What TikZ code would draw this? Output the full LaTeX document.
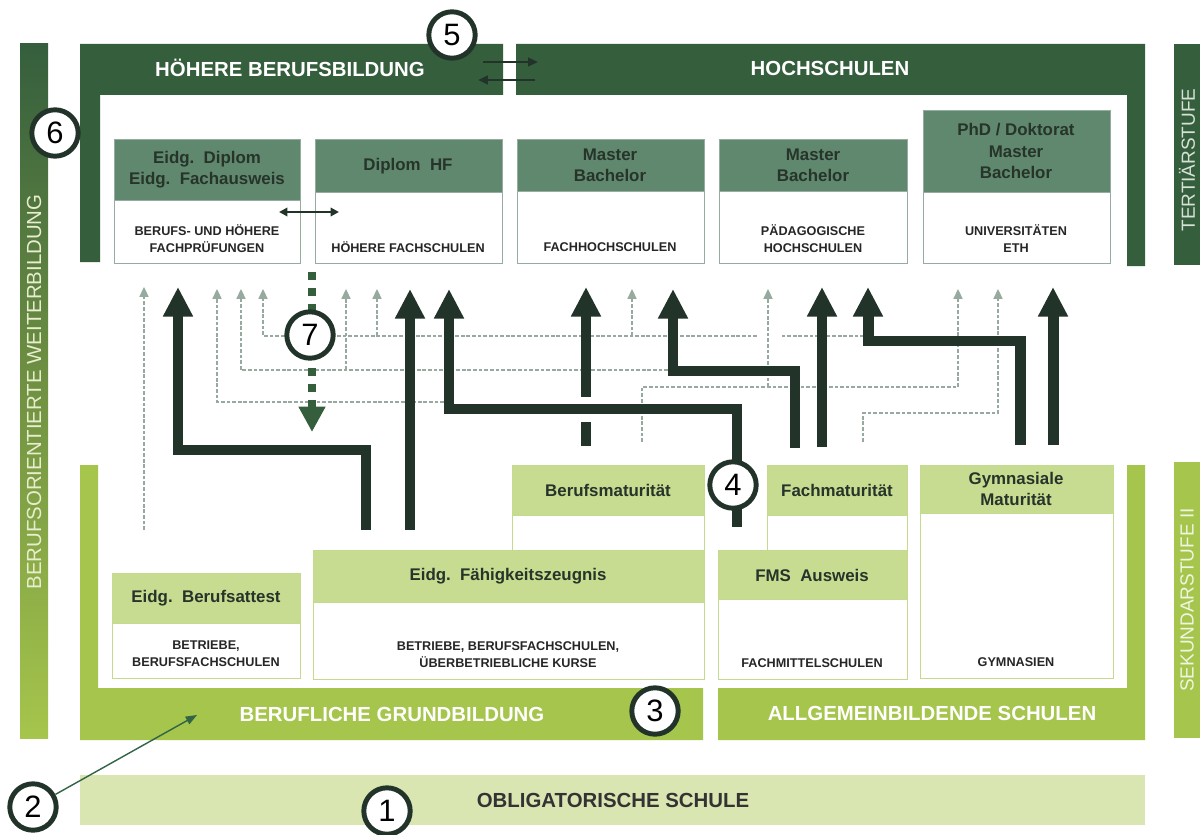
\documentclass[tikz,border=0pt]{standalone}
\usepackage{fontspec}
\setmainfont{Liberation Sans}
\usetikzlibrary{arrows.meta}

\definecolor{tertgreen}{RGB}{53,94,61}
\definecolor{olivemid}{RGB}{112,146,66}
\definecolor{headgreen}{RGB}{96,136,111}
\definecolor{headtext}{RGB}{38,52,42}
\definecolor{sekgreen}{RGB}{166,197,76}
\definecolor{lighthead}{RGB}{200,220,145}
\definecolor{oblgreen}{RGB}{217,230,178}
\definecolor{arrowdark}{RGB}{34,51,42}
\definecolor{dashgray}{RGB}{150,170,160}
\definecolor{boxline}{RGB}{150,172,158}
\definecolor{lightline}{RGB}{196,218,140}

\tikzstyle{hdr}=[fill=headgreen, draw=boxline, line width=0.7pt]
\tikzstyle{bodybox}=[fill=white, draw=boxline, line width=0.7pt]
\tikzstyle{lhdr}=[fill=lighthead, draw=lightline, line width=0.7pt]
\tikzstyle{lbody}=[fill=white, draw=lightline, line width=0.7pt]
\tikzstyle{htxt}=[font=\bfseries\fontsize{12}{15}\selectfont, text=headtext, align=center, inner sep=0pt]
\tikzstyle{btxt}=[font=\bfseries\fontsize{9}{12}\selectfont, text=black!85, align=center, inner sep=0pt]
\tikzstyle{bigtxt}=[font=\bfseries\fontsize{14.5}{16}\selectfont, text=white, inner sep=0pt]
\tikzstyle{sidetxt}=[font=\fontsize{13.5}{15}\selectfont, rotate=90, inner sep=0pt]
\tikzstyle{num}=[circle, draw=arrowdark, line width=3.5pt, fill=white, minimum size=33pt, inner sep=0pt, font=\fontsize{22}{22}\selectfont]
\tikzstyle{bigarrow}=[draw=arrowdark, line width=7.8pt, -{Triangle[length=21pt,width=20pt]}]
\tikzstyle{dline}=[draw=dashgray, line width=0.8pt, dash pattern=on 2.6pt off 1.4pt, -{Triangle[length=7pt,width=6.5pt]}]
\tikzstyle{greendash}=[draw=tertgreen, line width=5.7pt, dash pattern=on 5.7pt off 5.7pt, -{Triangle[length=18pt,width=18pt]}]
\tikzstyle{xarrow}=[draw=arrowdark, line width=1.6pt, -{Triangle[length=7pt,width=6pt]}]

\begin{document}
\begin{tikzpicture}[x=0.025cm,y=-0.025cm]
        \useasboundingbox (0,0) rectangle (1200,834);
        \fill[white] (0,0) rectangle (1200,834);
        %
        % side bars
        \shade[top color=tertgreen, bottom color=sekgreen, middle color=olivemid] (20,44) rectangle (48,738);
        \fill[tertgreen] (1174,44) rectangle (1200,265);
        \fill[sekgreen] (1174,462) rectangle (1200,738);
        \draw (34,392) node[sidetxt, font=\fontsize{14.5}{15}\selectfont, text={rgb,255:red,232;green,237;blue,205}](bow){BERUFSORIENTIERTE WEITERBILDUNG};
        \draw (1187,160) node[sidetxt, text={rgb,255:red,215;green,226;blue,215}](tert){TERTIÄRSTUFE};
        \draw (1187,600) node[sidetxt, text={rgb,255:red,240;green,245;blue,225}](sek){SEKUNDARSTUFE II};
        %
        % frames
        \fill[tertgreen] (80,44) -- (503,44) -- (503,95) -- (100,95) -- (100,262) -- (80,262) -- cycle;
        \fill[tertgreen] (516,44) -- (1145,44) -- (1145,266) -- (1127,266) -- (1127,95) -- (516,95) -- cycle;
        \fill[sekgreen] (80,465) -- (98,465) -- (98,688) -- (703,688) -- (703,740) -- (80,740) -- cycle;
        \fill[sekgreen] (718,688) -- (1127,688) -- (1127,465) -- (1145,465) -- (1145,740) -- (718,740) -- cycle;
        \fill[oblgreen] (80,775) rectangle (1145,825);
        \draw (290,68) node[bigtxt](hbb){HÖHERE BERUFSBILDUNG};
        \draw (830,68) node[bigtxt](hs){HOCHSCHULEN};
        \draw (392,714) node[bigtxt](bgb){BERUFLICHE GRUNDBILDUNG};
        \draw (932,713) node[bigtxt](abs){ALLGEMEINBILDENDE SCHULEN};
        \draw (613,800) node[bigtxt, text=black!80](obl){OBLIGATORISCHE SCHULE};
        %
        % tertiary boxes
        \draw[hdr] (114,139) rectangle (300,200);
        \draw[bodybox] (114,200) rectangle (300,263);
        \draw[hdr] (315,139) rectangle (502,192);
        \draw[bodybox] (315,192) rectangle (502,263);
        \draw[hdr] (517,139) rectangle (704,191);
        \draw[bodybox] (517,191) rectangle (704,263);
        \draw[hdr] (719,139) rectangle (907,191);
        \draw[bodybox] (719,191) rectangle (907,263);
        \draw[hdr] (923,110) rectangle (1110,192);
        \draw[bodybox] (923,192) rectangle (1110,263);
        \draw (207,170) node[htxt](dipl){Eidg.\ \ Diplom\\Eidg.\ \ Fachausweis};
        \draw (408,166) node[htxt](dhf){Diplom\ \ HF};
        \draw (610,165) node[htxt](mfh){Master\\Bachelor};
        \draw (813,165) node[htxt](mph){Master\\Bachelor};
        \draw (1016,151) node[htxt](muni){PhD / Doktorat\\Master\\Bachelor};
        \draw (207,239) node[btxt](bhp){BERUFS- UND HÖHERE\\FACHPRÜFUNGEN};
        \draw (408,247) node[btxt](hfs){HÖHERE FACHSCHULEN};
        \draw (610,247) node[btxt](fhs){FACHHOCHSCHULEN};
        \draw (813,239) node[btxt](phs){PÄDAGOGISCHE\\HOCHSCHULEN};
        \draw (1016,239) node[btxt](uni){UNIVERSITÄTEN\\ETH};
        %
        % secondary boxes
        \draw[lhdr] (512,465) rectangle (704,515);
        \draw[lbody] (512,515) rectangle (704,550);
        \draw[lhdr] (767,465) rectangle (907,515);
        \draw[lbody] (767,515) rectangle (907,550);
        \draw[lhdr] (920,465) rectangle (1113,513);
        \draw[lbody] (920,513) rectangle (1113,678);
        \draw[lhdr] (112,573) rectangle (300,623);
        \draw[lbody] (112,623) rectangle (300,678);
        \draw[lhdr] (313,550) rectangle (704,602);
        \draw[lbody] (313,602) rectangle (704,679);
        \draw[lhdr] (718,550) rectangle (907,599);
        \draw[lbody] (718,599) rectangle (907,679);
        \draw (608,490) node[htxt](bm){Berufsmaturität};
        \draw (837,490) node[htxt](fm){Fachmaturität};
        \draw (1016,489) node[htxt](gm){Gymnasiale\\Maturität};
        \draw (206,598) node[htxt](eba){Eidg.\ \ Berufsattest};
        \draw (508,576) node[htxt](efz){Eidg.\ \ Fähigkeitszeugnis};
        \draw (812,575) node[htxt](fms){FMS\ \ Ausweis};
        \draw (206,654) node[btxt](bbf){BETRIEBE,\\BERUFSFACHSCHULEN};
        \draw (508,655) node[btxt](bbk){BETRIEBE, BERUFSFACHSCHULEN,\\ÜBERBETRIEBLICHE KURSE};
        \draw (812,663) node[btxt](fmsch){FACHMITTELSCHULEN};
        \draw (1016,662) node[btxt](gym){GYMNASIEN};
        %
        % passerelles (dashed)
        \draw[dline] (144,530) -- (144,287);
        \draw[dline] (444,402) -- (217,402) -- (217,289);
        \draw[dline] (668,370) -- (241,370) -- (241,289);
        \draw[dline] (346,370) -- (346,289);
        \draw[dline] (757,336) -- (263,336) -- (263,289);
        \draw[dline, -] (864,336) -- (780,336);
        \draw[dline] (377,336) -- (377,289);
        \draw[dline] (632,336) -- (632,289);
        \draw[dline] (642,442) -- (642,387) -- (958,387) -- (958,289);
        \draw[dline] (768,387) -- (768,289);
        \draw[dline] (863,442) -- (863,413) -- (998,413) -- (998,289);
        %
        % main routes
        \draw[bigarrow] (366,530) -- (366,450) -- (178,450) -- (178,287);
        \draw[bigarrow] (410,530) -- (410,289);
        \draw[bigarrow, -] (586,446) -- (586,422);
        \draw[bigarrow] (586,397) -- (586,287);
        \draw[bigarrow] (737,527) -- (737,409) -- (449,409) -- (449,289);
        \draw[bigarrow] (795,448) -- (795,371) -- (673,371) -- (673,289);
        \draw[bigarrow] (822,447) -- (822,287);
        \draw[bigarrow] (1020,445) -- (1020,341) -- (868,341) -- (868,287);
        \draw[bigarrow] (1053,445) -- (1053,287);
        \draw[greendash] (312,272) -- (312,432);
        %
        \draw[xarrow] (483,62) -- (538,62);
        \draw[xarrow] (535,80) -- (478,80);
        \draw[xarrow, {Triangle[length=6pt,width=6pt]}-{Triangle[length=6pt,width=6pt]}] (279,212) -- (339,212);
        %
        % numbers
        \draw (387,811) node[num](n1){1};
        \draw (33,807) node[num](n2){2};
        \draw (655,711) node[num](n3){3};
        \draw (733,485) node[num](n4){4};
        \draw (452,35) node[num](n5){5};
        \draw (55,133) node[num](n6){6};
        \draw (310,335) node[num](n7){7};
        \draw[draw={rgb,255:red,50;green,100;blue,70}, line width=1pt, -{Triangle[length=8pt,width=6pt]}] (n2) -- (197,715);
\end{tikzpicture}
\end{document}
